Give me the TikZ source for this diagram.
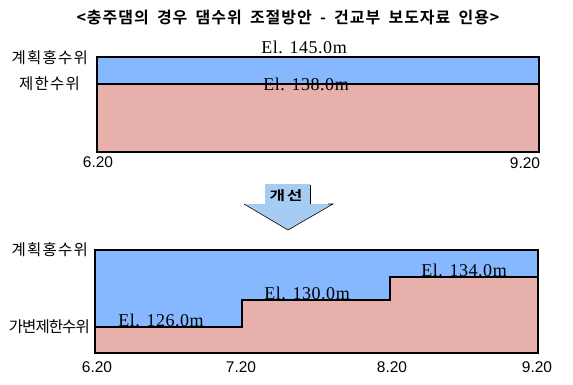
\documentclass[tikz,border=0pt]{standalone}
\usepackage{fontspec}
\setmainfont{Liberation Serif}[LetterSpace=3]
\newfontfamily\kr{Noto Sans CJK KR}[LetterSpace=8]
\newfontfamily\krn{Noto Sans CJK KR}[LetterSpace=-6]
\newfontfamily\krt{Noto Sans CJK KR Bold}[LetterSpace=6, WordSpace=1.8]
\newfontfamily\krb{Noto Sans CJK KR Bold}[LetterSpace=10]
\newfontfamily\num{Liberation Sans}
\definecolor{water}{RGB}{134,184,255}
\definecolor{ground}{RGB}{232,176,170}
\definecolor{arrowblue}{RGB}{166,204,244}
\tikzset{
  krlabel/.style={font=\kr\fontsize{15.5}{17}\selectfont, inner sep=0pt},
  ellabel/.style={font=\fontsize{18}{20}\selectfont, inner sep=0pt},
  numlabel/.style={font=\num\fontsize{15.5}{17}\selectfont, inner sep=0pt},
  frame/.style={draw=black, line width=1.2pt},
  levelline/.style={draw=black, line width=1.1pt},
}
\begin{document}
\begin{tikzpicture}[x=1pt,y=-1pt]
\useasboundingbox (0,0) rectangle (573,384);
% title
\node[font=\krt\fontsize{16}{18}\selectfont, inner sep=0pt] (title) at (288,18) {<충주댐의 경우 댐수위 조절방안 - 건교부 보도자료 인용>};

% top chart
\fill[water] (97,57) rectangle (539,84);
\fill[ground] (97,84) rectangle (539,152);
\draw[levelline] (97,84) -- (539,84);
\draw[frame] (97,57) rectangle (539,152);
\node[krlabel, anchor=east] (t1) at (88,58) {계획홍수위};
\node[krlabel, anchor=east] (t2) at (80,84) {제한수위};
\node[ellabel] (e145) at (304,47) {El. 145.0m};
\node[ellabel] (e138) at (306,84) {El. 138.0m};
\node[numlabel] (a1) at (98,162) {6.20};
\node[numlabel] (a2) at (525,163) {9.20};

% arrow
\fill[arrowblue] (265,184) -- (310,184) -- (310,204) -- (332,204) -- (288,230) -- (245,204) -- (265,204) -- cycle;
\draw[black, line width=0.6pt] (310,185) -- (310,204);
\draw[black, line width=0.6pt] (328,204) -- (333,204) -- (288,230) -- (244,204);
\node[font=\krb\fontsize{13}{15}\selectfont, inner sep=0pt] (imp) at (286,196) {\scalebox{1.3}[1]{개선}};

% bottom chart
\fill[water] (95,250) rectangle (538,353);
\fill[ground] (95,353) -- (95,327) -- (242,327) -- (242,300) -- (390,300) -- (390,277) -- (538,277) -- (538,353) -- cycle;
\draw[levelline] (95,327) -- (242,327) -- (242,300) -- (390,300) -- (390,277) -- (538,277);
\draw[frame] (95,250) rectangle (538,353);
\node[krlabel, anchor=east] (b1) at (88,250) {계획홍수위};
\node[krlabel, font=\krn\fontsize{15.5}{17}\selectfont, anchor=east] (b2) at (90,327) {가변제한수위};
\node[ellabel] (e126) at (161,320) {El. 126.0m};
\node[ellabel] (e130) at (307,293) {El. 130.0m};
\node[ellabel] (e134) at (464,270) {El. 134.0m};
\node[numlabel] (c1) at (97,367) {6.20};
\node[numlabel] (c2) at (241,367) {7.20};
\node[numlabel] (c3) at (392,367) {8.20};
\node[numlabel] (c4) at (537,367) {9.20};
\end{tikzpicture}
\end{document}
